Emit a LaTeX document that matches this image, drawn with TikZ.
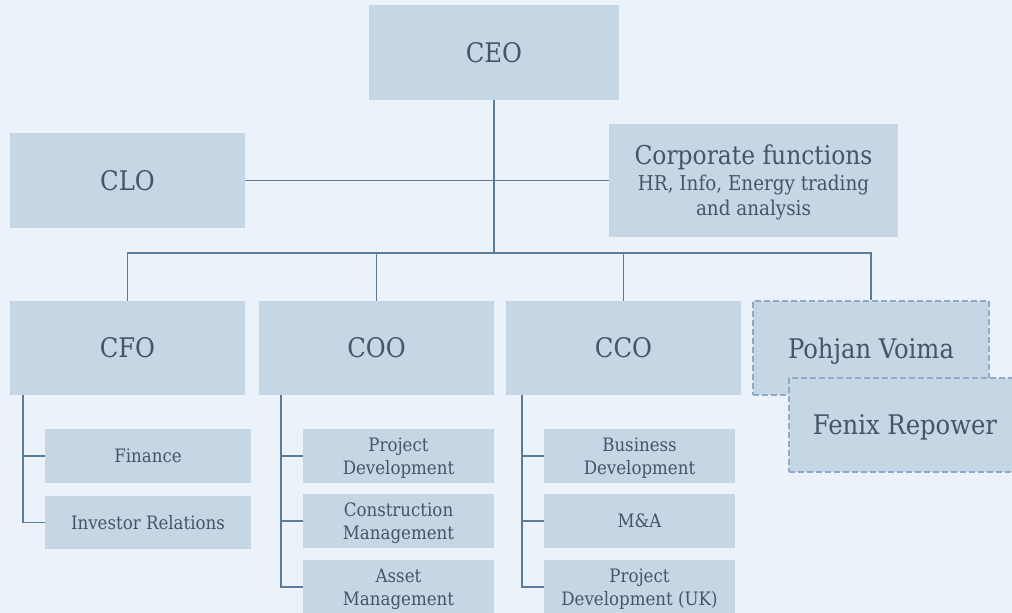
\documentclass[tikz,border=0pt]{standalone}
\usepackage{fontspec}
\setmainfont{DejaVu Serif Condensed}
\definecolor{bg}{HTML}{EBF2FA}
\definecolor{boxfill}{HTML}{C5D7E5}
\definecolor{linec}{HTML}{5B7B96}
\definecolor{txt}{HTML}{475366}
\definecolor{dashc}{HTML}{8EAAC8}
\begin{document}
\begin{tikzpicture}[x=1pt,y=-1pt,
  box/.style={fill=boxfill, draw=none, inner sep=0pt, align=center, text=txt},
  big/.style={box, font=\fontsize{27}{30}\selectfont},
  small/.style={box, font=\fontsize{18.5}{23}\selectfont, text depth=0pt},
  dbox/.style={big, text depth=0pt, draw=dashc, dashed, dash pattern=on 6pt off 3pt, line width=2pt},
  conn/.style={draw=linec, line width=1.3pt},
  mainconn/.style={draw=linec, line width=2pt}]
\fill[bg] (0,0) rectangle (1012,613);
\useasboundingbox (0,0) rectangle (1012,613);
\begin{scope}
\clip (0,0) rectangle (1012,613);
% top level
\node[big, minimum width=250pt, minimum height=95pt] (ceo) at (494,52.5) {CEO};
\node[big, minimum width=235pt, minimum height=95pt] (clo) at (127.5,180.5) {CLO};
\node[box, text depth=0pt, font=\fontsize{20.4}{25}\selectfont, minimum width=289pt, minimum height=113pt] (corp) at (753.5,180.5)
  {{\fontsize{26}{28}\selectfont Corporate functions}\\[1pt]
   HR, Info, Energy trading\\
   and analysis};
% second level
\node[big, minimum width=235pt, minimum height=94pt] (cfo) at (127.5,348) {CFO};
\node[big, minimum width=235pt, minimum height=94pt] (coo) at (376.5,348) {COO};
\node[big, minimum width=235pt, minimum height=94pt] (cco) at (623.5,348) {CCO};
\node[dbox, minimum width=236pt, minimum height=94pt] (pv) at (871,348) {Pohjan Voima};
\node[dbox, minimum width=232pt, minimum height=94pt] (fenix) at (905,425) {Fenix Repower};
% third level: CFO
\node[small, minimum width=206pt, minimum height=54pt] (fin) at (148,456) {Finance};
\node[small, minimum width=206pt, minimum height=53pt] (ir) at (148,522.5) {Investor Relations};
% COO
\node[small, minimum width=191pt, minimum height=54pt] (pd) at (398.5,456) {Project\\Development};
\node[small, minimum width=191pt, minimum height=54pt] (cm) at (398.5,521) {Construction\\Management};
\node[small, minimum width=191pt, minimum height=54pt] (am) at (398.5,587) {Asset\\Management};
% CCO
\node[small, minimum width=191pt, minimum height=54pt] (bd) at (639.5,456) {Business\\Development};
\node[small, minimum width=191pt, minimum height=54pt] (ma) at (639.5,521) {M\&A};
\node[small, minimum width=191pt, minimum height=54pt] (pduk) at (639.5,587) {Project\\Development (UK)};
% connectors
\coordinate (bus) at (494,253);
\draw[mainconn] (ceo.south) -- (bus);
\draw[conn] (clo.east) -- (corp.west);
\draw[conn] (cfo.north) |- (bus) -| (pv.north);
\draw[conn] (coo.north) -- (coo.north |- bus);
\draw[conn] (cco.north) -- (cco.north |- bus);
\coordinate (cfoL) at (23,395);
\coordinate (cooL) at (281,395);
\coordinate (ccoL) at (522,395);
\draw[conn] (cfoL) |- (fin.west);
\draw[conn] (cfoL) |- (ir.west);
\draw[conn] (cooL) |- (pd.west);
\draw[conn] (cooL) |- (cm.west);
\draw[conn] (cooL) |- (am.west);
\draw[conn] (ccoL) |- (bd.west);
\draw[conn] (ccoL) |- (ma.west);
\draw[conn] (ccoL) |- (pduk.west);
\end{scope}
\end{tikzpicture}
\end{document}
